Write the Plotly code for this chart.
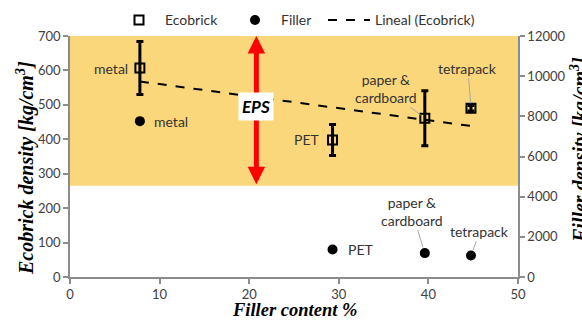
import numpy as np
import plotly.graph_objects as go

# ---- data ----
categories = ["metal", "PET", "paper & cardboard", "tetrapack"]
filler_content = [7.8, 29.3, 39.6, 44.75]          # %
ecobrick_density = [607, 398, 461, 490]            # kg/cm3 (left axis)
ecobrick_err = [77, 45, 80, 8]
filler_density = [7760, 1370, 1190, 1070]          # kg/cm3 (right axis)
eps_range = [265, 700]                             # EPS band on left axis
eps_x = 20.8

x_ticks = [0, 10, 20, 30, 40, 50]
y_ticks = [0, 100, 200, 300, 400, 500, 600, 700]
y2_ticks = [0, 2000, 4000, 6000, 8000, 10000, 12000]

# linear trend of ecobrick density
slope, intercept = np.polyfit(filler_content, ecobrick_density, 1)
trend_x = [min(filler_content), max(filler_content)]
trend_y = [slope * v + intercept for v in trend_x]

SANS = "Lato"
SERIF = "Liberation Serif"
TXT = "#333333"

fig = go.Figure()

fig.add_trace(go.Scatter(
    x=filler_content, y=ecobrick_density, mode="markers", name="Ecobrick",
    marker=dict(symbol="square-open", size=9, color="black", line=dict(width=2, color="black")),
    error_y=dict(type="data", array=ecobrick_err, visible=True, color="black", thickness=3, width=3.5),
    legend="legend",
))
fig.add_trace(go.Scatter(
    x=filler_content, y=filler_density, mode="markers", name="Filler", yaxis="y2",
    marker=dict(symbol="circle", size=10, color="black"),
    legend="legend2",
))
fig.add_trace(go.Scatter(
    x=trend_x, y=trend_y, mode="lines", name="Lineal (Ecobrick)",
    line=dict(color="black", width=2, dash="dash"),
    legend="legend3",
))

# EPS band
fig.add_shape(type="rect", xref="x", yref="y", x0=0, x1=50, y0=eps_range[0], y1=eps_range[1],
              fillcolor="#FBD77C", line=dict(width=0), layer="below")

ann = []
# EPS double arrow
ann.append(dict(x=eps_x, y=eps_range[1], ax=eps_x, ay=eps_range[0], xref="x", yref="y",
                axref="x", ayref="y", text="", showarrow=True, arrowhead=2, arrowside="end+start",
                arrowwidth=5, arrowsize=0.7, arrowcolor="#FF0000", standoff=0, startstandoff=0))
ann.append(dict(x=eps_x, y=494, xref="x", yref="y", text="<b><i>EPS</i></b>", showarrow=False,
                bgcolor="white", font=dict(family=SANS, size=17, color="black"), borderpad=3))

lab_font = dict(family=SANS, size=14, color=TXT)
# ecobrick labels
ann.append(dict(x=filler_content[0], y=ecobrick_density[0], xref="x", yref="y", text=categories[0],
                showarrow=False, xanchor="right", xshift=-10, font=lab_font))
ann.append(dict(x=filler_content[1], y=ecobrick_density[1], xref="x", yref="y", text=categories[1],
                showarrow=False, xanchor="right", xshift=-12, font=lab_font))
ann.append(dict(x=filler_content[2], y=ecobrick_density[2], xref="x", yref="y",
                text=categories[2].replace("& ", "&<br>"), showarrow=True, arrowhead=0,
                arrowcolor="#A6A6A6", arrowwidth=1, ax=-39, ay=-30, standoff=5, font=lab_font))
ann.append(dict(x=filler_content[3], y=ecobrick_density[3], xref="x", yref="y", text=categories[3],
                showarrow=True, arrowhead=0, arrowcolor="#A6A6A6", arrowwidth=1,
                ax=-3, ay=-40, standoff=5, font=lab_font))
# filler labels
ann.append(dict(x=filler_content[0], y=filler_density[0], xref="x", yref="y2", text=categories[0],
                showarrow=False, xanchor="left", xshift=12, font=lab_font))
ann.append(dict(x=filler_content[1], y=filler_density[1], xref="x", yref="y2", text=categories[1],
                showarrow=False, xanchor="left", xshift=13, font=lab_font))
ann.append(dict(x=filler_content[2], y=filler_density[2], xref="x", yref="y2",
                text=categories[2].replace("& ", "&<br>"), showarrow=True, arrowhead=0,
                arrowcolor="#A6A6A6", arrowwidth=1, ax=-13, ay=-42, standoff=6, font=lab_font))
ann.append(dict(x=filler_content[3], y=filler_density[3], xref="x", yref="y2", text=categories[3],
                showarrow=True, arrowhead=0, arrowcolor="#A6A6A6", arrowwidth=1,
                ax=9, ay=-24, standoff=6, font=lab_font))

# axis titles
title_font = dict(family=SERIF, size=20, color="black", weight="bold", style="italic")
ann.append(dict(xref="paper", yref="paper", x=(26 - 70) / 448, y=(277.3 - 168) / 241.6,
                text="Ecobrick density [kg/cm<sup>3</sup>]", textangle=-90, showarrow=False,
                font=title_font, xanchor="center", yanchor="middle"))
ann.append(dict(xref="paper", yref="paper", x=(579 - 70) / 448, y=(277.3 - 150) / 241.6,
                text="Filler density [kg/cm<sup>3</sup>]", textangle=-90, showarrow=False,
                font=title_font, xanchor="center", yanchor="middle"))
ann.append(dict(xref="paper", yref="paper", x=(294 - 70) / 448, y=(277.3 - 310) / 241.6,
                text="Filler content %", showarrow=False,
                font=dict(family=SERIF, size=18.5, color="black", weight="bold", style="italic"),
                xanchor="center", yanchor="middle"))

axis_common = dict(showgrid=False, zeroline=False, showline=True, linecolor="#8C8C8C", linewidth=1.5,
                   ticks="outside", ticklen=5, tickcolor="#8C8C8C", tickwidth=1.5,
                   tickfont=dict(family=SANS, size=13, color="#404040"), automargin=False)

leg_common = dict(orientation="h", font=dict(family=SANS, size=14, color=TXT), itemwidth=42,
                  bgcolor="rgba(0,0,0,0)", yanchor="middle", xanchor="left", y=(277.3 - 20) / 241.6)

fig.update_layout(
    width=582, height=321,
    margin=dict(l=70, r=64, t=36, b=44, autoexpand=False),
    paper_bgcolor="white", plot_bgcolor="white",
    xaxis=dict(range=[0, 50], tickvals=x_ticks, **axis_common),
    yaxis=dict(range=[0, 700], tickvals=y_ticks, **axis_common),
    yaxis2=dict(range=[0, 12000], tickvals=y2_ticks, tickformat="d", overlaying="y", side="right",
                **axis_common),
    annotations=ann,
    legend=dict(x=(140 - 27 - 70) / 448, **leg_common),
    legend2=dict(x=(256 - 27 - 70) / 448, **leg_common),
    legend3=dict(x=(350 - 27 - 70) / 448, **leg_common),
    showlegend=True,
)

fig.write_html("out.html", config={"displayModeBar": False},
               post_script="document.body.style.margin='0';document.body.style.overflow='hidden';")
